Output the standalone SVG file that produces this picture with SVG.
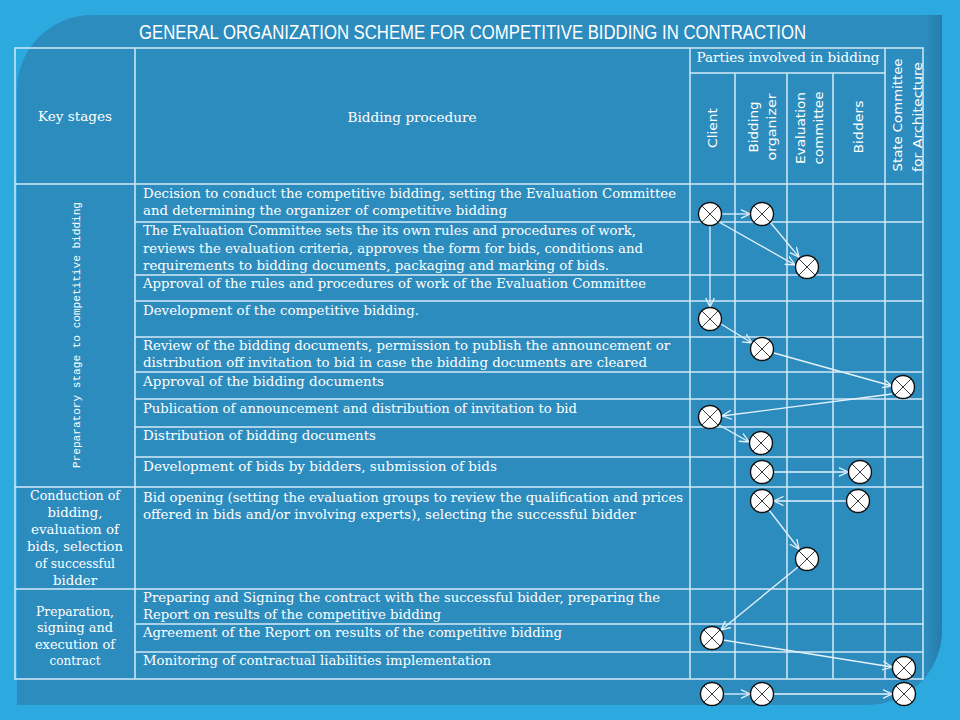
<svg xmlns="http://www.w3.org/2000/svg" xmlns:xlink="http://www.w3.org/1999/xlink" width="960" height="720" viewBox="0 0 960 720">
<defs>
<style>
.grid{stroke:#D3E8F4;stroke-width:1.5;fill:none}
.t{font-family:"DejaVu Serif","Liberation Serif",serif;font-size:13.5px;fill:#FFFFFF}
.h{font-family:"DejaVu Serif","Liberation Serif",serif;font-size:13px;fill:#FFFFFF}
.v{font-family:"DejaVu Sans","Liberation Sans",sans-serif;font-size:12.5px;fill:#FFFFFF;text-anchor:middle}
.c{text-anchor:middle}
.title{font-family:"Liberation Sans",Arial,sans-serif;font-size:20px;fill:#FFFFFF}
.mono{font-family:"Liberation Mono","DejaVu Sans Mono",monospace;font-size:11.5px;fill:#FFFFFF;text-anchor:middle}
.arr{stroke:#E4F2FA;stroke-width:1.3;fill:none;marker-end:url(#ah)}
.nc{fill:#FFFFFF;stroke:#111111;stroke-width:1.4}
.nx{stroke:#3A3A3A;stroke-width:1}
</style>
<marker id="ah" viewBox="0 0 10 10" refX="9.5" refY="5" markerWidth="10" markerHeight="10" markerUnits="userSpaceOnUse" orient="auto">
<path d="M0,0.5 L9.5,5 L0,9.5" fill="none" stroke="#E4F2FA" stroke-width="1.3"/>
</marker>
<g id="xc">
<circle class="nc" cx="0" cy="0" r="11.5"/>
<line class="nx" x1="-8.1" y1="-8.1" x2="8.1" y2="8.1"/>
<line class="nx" x1="-8.1" y1="8.1" x2="8.1" y2="-8.1"/>
</g>
<linearGradient id="edge" x1="0" y1="0" x2="1" y2="0">
<stop offset="0" stop-color="#1F6E9E" stop-opacity="0"/>
<stop offset="1" stop-color="#1F6E9E" stop-opacity="0.55"/>
</linearGradient>
</defs>

<rect x="0" y="0" width="960" height="720" fill="#2CA9DF"/>
<path d="M92,15 L942,15 L942,630 A75,75 0 0 1 867,705 L17,705 L17,90 A75,75 0 0 1 92,15 Z" fill="#2D8CBE"/>
<path d="M926,15 L942,15 L942,630 A75,75 0 0 1 926,676 Z" fill="url(#edge)"/>

<text class="title" x="139" y="39" textLength="667" lengthAdjust="spacingAndGlyphs">GENERAL ORGANIZATION SCHEME FOR COMPETITIVE BIDDING IN CONTRACTION</text>

<g id="table">
<rect class="grid" x="15" y="48" width="908" height="631"/>
<line class="grid" x1="135" y1="48" x2="135" y2="679"/>
<line class="grid" x1="690" y1="48" x2="690" y2="679"/>
<line class="grid" x1="885" y1="48" x2="885" y2="679"/>
<line class="grid" x1="735" y1="73" x2="735" y2="679"/>
<line class="grid" x1="787" y1="73" x2="787" y2="679"/>
<line class="grid" x1="833" y1="73" x2="833" y2="679"/>
<line class="grid" x1="690" y1="73" x2="885" y2="73"/>
<line class="grid" x1="15" y1="184" x2="923" y2="184"/>
<line class="grid" x1="135" y1="222" x2="923" y2="222"/>
<line class="grid" x1="135" y1="275" x2="923" y2="275"/>
<line class="grid" x1="135" y1="301" x2="923" y2="301"/>
<line class="grid" x1="135" y1="337" x2="923" y2="337"/>
<line class="grid" x1="135" y1="372" x2="923" y2="372"/>
<line class="grid" x1="135" y1="399" x2="923" y2="399"/>
<line class="grid" x1="135" y1="427" x2="923" y2="427"/>
<line class="grid" x1="135" y1="457" x2="923" y2="457"/>
<line class="grid" x1="15" y1="487" x2="923" y2="487"/>
<line class="grid" x1="15" y1="589" x2="923" y2="589"/>
<line class="grid" x1="135" y1="624" x2="923" y2="624"/>
<line class="grid" x1="135" y1="652" x2="923" y2="652"/>
</g>

<g id="headers">
<text class="h c" x="75" y="121" textLength="74" lengthAdjust="spacingAndGlyphs">Key stages</text>
<text class="h c" x="412" y="122" textLength="129" lengthAdjust="spacingAndGlyphs">Bidding procedure</text>
<text class="h c" x="788" y="62" textLength="183" lengthAdjust="spacingAndGlyphs">Parties involved in bidding</text>
<text class="v" transform="translate(717,128) rotate(-90)" textLength="40" lengthAdjust="spacingAndGlyphs">Client</text>
<text class="v" transform="translate(758,127) rotate(-90)" textLength="51" lengthAdjust="spacingAndGlyphs">Bidding</text>
<text class="v" transform="translate(776,127) rotate(-90)" textLength="67" lengthAdjust="spacingAndGlyphs">organizer</text>
<text class="v" transform="translate(805,128) rotate(-90)" textLength="72" lengthAdjust="spacingAndGlyphs">Evaluation</text>
<text class="v" transform="translate(823,128) rotate(-90)" textLength="73" lengthAdjust="spacingAndGlyphs">committee</text>
<text class="v" transform="translate(863,127) rotate(-90)" textLength="53" lengthAdjust="spacingAndGlyphs">Bidders</text>
<text class="v" transform="translate(902,115) rotate(-90)" textLength="113" lengthAdjust="spacingAndGlyphs">State Committee</text>
<text class="v" transform="translate(922,117) rotate(-90)" textLength="110" lengthAdjust="spacingAndGlyphs">for Architecture</text>
</g>

<g id="stages">
<text class="mono" transform="translate(80,335) rotate(-90)" textLength="266" lengthAdjust="spacingAndGlyphs">Preparatory stage to competitive bidding</text>
<text class="h c" x="75" y="500" textLength="90" lengthAdjust="spacingAndGlyphs">Conduction of</text>
<text class="h c" x="75" y="517" textLength="55" lengthAdjust="spacingAndGlyphs">bidding,</text>
<text class="h c" x="75" y="534" textLength="88" lengthAdjust="spacingAndGlyphs">evaluation of</text>
<text class="h c" x="75" y="551" textLength="96" lengthAdjust="spacingAndGlyphs">bids, selection</text>
<text class="h c" x="75" y="568" textLength="80" lengthAdjust="spacingAndGlyphs">of successful</text>
<text class="h c" x="75" y="585" textLength="44" lengthAdjust="spacingAndGlyphs">bidder</text>
<text class="h c" x="75" y="616" textLength="78" lengthAdjust="spacingAndGlyphs">Preparation,</text>
<text class="h c" x="75" y="632" textLength="76" lengthAdjust="spacingAndGlyphs">signing and</text>
<text class="h c" x="75" y="649" textLength="80" lengthAdjust="spacingAndGlyphs">execution of</text>
<text class="h c" x="75" y="665" textLength="51" lengthAdjust="spacingAndGlyphs">contract</text>
</g>

<g id="procedure">
<text class="t" x="143" y="198" textLength="533" lengthAdjust="spacingAndGlyphs">Decision to conduct the competitive bidding, setting the Evaluation Committee</text>
<text class="t" x="143" y="215" textLength="364" lengthAdjust="spacingAndGlyphs">and determining the organizer of competitive bidding</text>
<text class="t" x="143" y="235" textLength="493" lengthAdjust="spacingAndGlyphs">The Evaluation Committee sets the its own rules and procedures of work,</text>
<text class="t" x="143" y="252.5" textLength="500" lengthAdjust="spacingAndGlyphs">reviews the evaluation criteria, approves the form for bids, conditions and</text>
<text class="t" x="143" y="270" textLength="466" lengthAdjust="spacingAndGlyphs">requirements to bidding documents, packaging and marking of bids.</text>
<text class="t" x="143" y="288" textLength="503" lengthAdjust="spacingAndGlyphs">Approval of the rules and procedures of work of the Evaluation Committee</text>
<text class="t" x="143" y="315" textLength="276" lengthAdjust="spacingAndGlyphs">Development of the competitive bidding.</text>
<text class="t" x="143" y="350" textLength="527" lengthAdjust="spacingAndGlyphs">Review of the bidding documents, permission to publish the announcement or</text>
<text class="t" x="143" y="367" textLength="504" lengthAdjust="spacingAndGlyphs">distribution off invitation to bid in case the bidding documents are cleared</text>
<text class="t" x="143" y="386" textLength="241" lengthAdjust="spacingAndGlyphs">Approval of the bidding documents</text>
<text class="t" x="143" y="413" textLength="434" lengthAdjust="spacingAndGlyphs">Publication of announcement and distribution of invitation to bid</text>
<text class="t" x="143" y="440" textLength="233" lengthAdjust="spacingAndGlyphs">Distribution of bidding documents</text>
<text class="t" x="143" y="471" textLength="354" lengthAdjust="spacingAndGlyphs">Development of bids by bidders, submission of bids</text>
<text class="t" x="143" y="502" textLength="540" lengthAdjust="spacingAndGlyphs">Bid opening (setting the evaluation groups to review the qualification and prices</text>
<text class="t" x="143" y="519" textLength="493" lengthAdjust="spacingAndGlyphs">offered in bids and/or involving experts), selecting the successful bidder</text>
<text class="t" x="143" y="602" textLength="517" lengthAdjust="spacingAndGlyphs">Preparing and Signing the contract with the successful bidder, preparing the</text>
<text class="t" x="143" y="619" textLength="298" lengthAdjust="spacingAndGlyphs">Report on results of the competitive bidding</text>
<text class="t" x="143" y="637" textLength="419" lengthAdjust="spacingAndGlyphs">Agreement of the Report on results of the competitive bidding</text>
<text class="t" x="143" y="665" textLength="348" lengthAdjust="spacingAndGlyphs">Monitoring of contractual liabilities implementation</text>
</g>

<g id="connectors">
<line class="arr" x1="722" y1="214" x2="750" y2="214"/>
<line class="arr" x1="719" y1="222" x2="795" y2="265"/>
<line class="arr" x1="770" y1="222" x2="799" y2="257"/>
<line class="arr" x1="710" y1="226" x2="710" y2="307"/>
<line class="arr" x1="721" y1="324" x2="752" y2="343"/>
<line class="arr" x1="774" y1="353" x2="892" y2="386"/>
<line class="arr" x1="892" y1="394" x2="722" y2="416"/>
<line class="arr" x1="719" y1="425" x2="749" y2="442"/>
<line class="arr" x1="774" y1="472" x2="848" y2="472"/>
<line class="arr" x1="846" y1="501" x2="774" y2="501"/>
<line class="arr" x1="769" y1="510" x2="799" y2="549"/>
<line class="arr" x1="798" y1="567" x2="721" y2="630"/>
<line class="arr" x1="723" y1="640" x2="892" y2="667"/>
<line class="arr" x1="724" y1="694" x2="750" y2="694"/>
<line class="arr" x1="774" y1="694" x2="892" y2="694"/>
</g>

<g id="n1"><use xlink:href="#xc" x="710" y="214"/></g>
<g id="n2"><use xlink:href="#xc" x="762" y="214"/></g>
<g id="n3"><use xlink:href="#xc" x="807" y="267"/></g>
<g id="n4"><use xlink:href="#xc" x="710" y="319"/></g>
<g id="n5"><use xlink:href="#xc" x="762" y="349"/></g>
<g id="n6"><use xlink:href="#xc" x="903" y="387"/></g>
<g id="n7"><use xlink:href="#xc" x="710" y="417"/></g>
<g id="n8"><use xlink:href="#xc" x="761" y="443"/></g>
<g id="n9"><use xlink:href="#xc" x="762" y="472"/></g>
<g id="n10"><use xlink:href="#xc" x="860" y="472"/></g>
<g id="n11"><use xlink:href="#xc" x="762" y="501"/></g>
<g id="n12"><use xlink:href="#xc" x="858" y="501"/></g>
<g id="n13"><use xlink:href="#xc" x="807" y="559"/></g>
<g id="n14"><use xlink:href="#xc" x="712" y="638"/></g>
<g id="n15"><use xlink:href="#xc" x="904" y="668"/></g>
<g id="n16"><use xlink:href="#xc" x="712" y="694"/></g>
<g id="n17"><use xlink:href="#xc" x="762" y="694"/></g>
<g id="n18"><use xlink:href="#xc" x="904" y="694"/></g>
</svg>
